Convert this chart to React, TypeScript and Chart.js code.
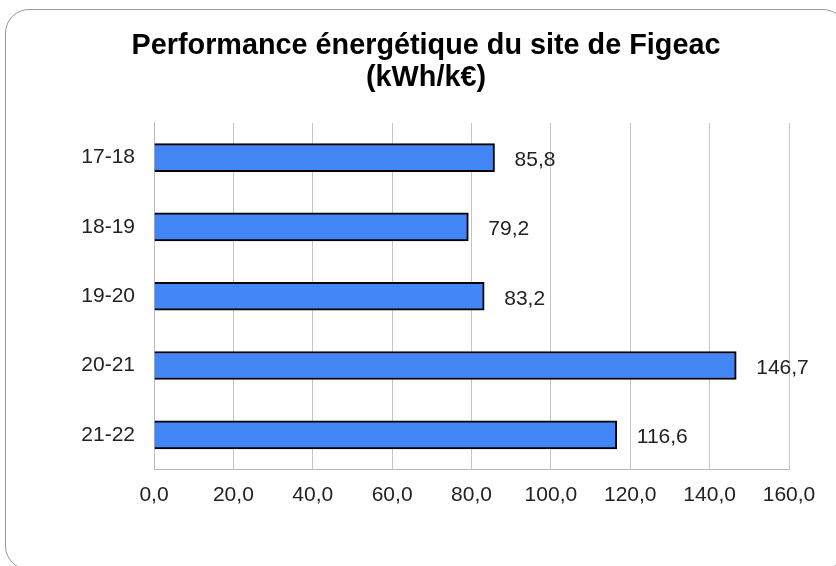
import React, { useEffect, useRef } from "react";
import { Chart, registerables } from "chart.js";

Chart.register(...registerables);

const categories = ["17-18", "18-19", "19-20", "20-21", "21-22"];
const values = [85.8, 79.2, 83.2, 146.7, 116.6];
const titleLines = ["Performance énergétique du site de Figeac", "(kWh/k€)"];
const xMin = 0;
const xMax = 160;
const xStep = 20;

const FONT = "'Liberation Sans', Arial, sans-serif";
const fmt = (v: number) => v.toFixed(1).replace(".", ",");

const valueLabels = {
  id: "valueLabels",
  afterDatasetsDraw(chart: any) {
    const ctx = chart.ctx;
    const meta = chart.getDatasetMeta(0);
    ctx.save();
    ctx.font = `21px ${FONT}`;
    ctx.fillStyle = "#222222";
    ctx.textAlign = "left";
    ctx.textBaseline = "middle";
    meta.data.forEach((bar: any, i: number) => {
      ctx.fillText(fmt(values[i]), bar.x + 20, bar.y + 2.5);
    });
    ctx.restore();
  },
};

export default function App() {
  const ref = useRef<HTMLCanvasElement | null>(null);

  useEffect(() => {
    if (!ref.current) return;
    const chart = new Chart(ref.current, {
      type: "bar",
      data: {
        labels: categories,
        datasets: [
          {
            data: values,
            backgroundColor: "#4285F4",
            borderColor: "#000000",
            borderWidth: 2,
            barThickness: 28,
          },
        ],
      },
      options: {
        indexAxis: "y",
        responsive: false,
        animation: false,
        devicePixelRatio: 1,
        layout: { padding: { left: 57, right: 57, top: 0, bottom: 0 } },
        plugins: {
          legend: { display: false },
          tooltip: { enabled: false },
          title: {
            display: true,
            text: titleLines,
            color: "#000000",
            font: { family: FONT, size: 28.8, weight: "bold", lineHeight: 1.11 },
            padding: { top: 20, bottom: 29 },
          },
        },
        scales: {
          x: {
            min: xMin,
            max: xMax,
            ticks: {
              stepSize: xStep,
              color: "#222222",
              font: { family: FONT, size: 21 },
              padding: 13,
              callback: (v: any) => fmt(Number(v)),
              maxRotation: 0,
            },
            grid: { color: "#c4c4c4", lineWidth: 1, drawTicks: false },
            border: { display: true, color: "#b8b8b8", width: 1 },
            afterFit: (s: any) => {
              s.height = 96.5;
            },
          },
          y: {
            ticks: {
              color: "#222222",
              font: { family: FONT, size: 21 },
              padding: 19,
            },
            grid: { display: false, drawTicks: false },
            border: { display: true, color: "#b8b8b8", width: 1 },
            afterFit: (s: any) => {
              s.width = 91;
            },
          },
        },
      } as any,
      plugins: [valueLabels],
    });
    return () => chart.destroy();
  }, []);

  return (
    <div
      style={{
        position: "fixed",
        left: 0,
        top: 0,
        width: 836,
        height: 566,
        overflow: "hidden",
        background: "#ffffff",
      }}
    >
      <div
        style={{
          position: "absolute",
          left: 5,
          top: 9,
          width: 840,
          height: 559,
          border: "1px solid #9a9a9a",
          borderRadius: 24,
          boxSizing: "content-box",
          background: "#ffffff",
        }}
      >
        <canvas
          ref={ref}
          width={840}
          height={556}
          style={{ position: "absolute", left: 0, top: 0, width: 840, height: 556 }}
        />
      </div>
    </div>
  );
}
